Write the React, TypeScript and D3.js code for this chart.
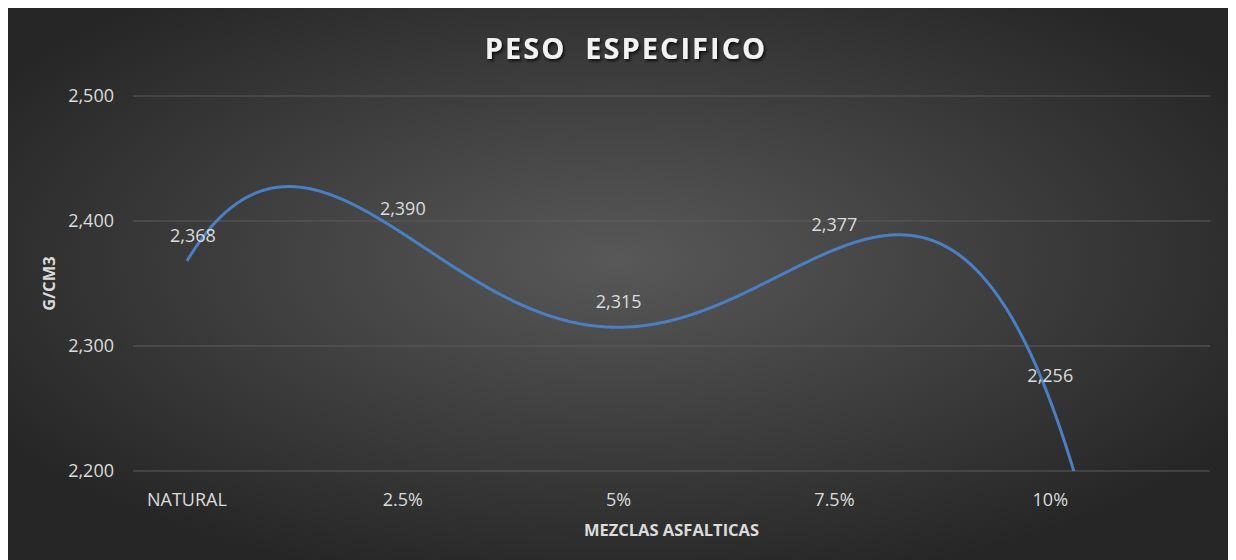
import React from "react";
import * as d3 from "d3";

const categories = ["NATURAL", "2.5%", "5%", "7.5%", "10%"];
const values = [2.368, 2.39, 2.315, 2.377, 2.256];
const yTicks = [2.2, 2.3, 2.4, 2.5];

const W = 1236;
const H = 560;
const plot = { left: 133, right: 1210, top: 96, bottom: 471 };

function lagrange(xs: number[], ys: number[], x: number) {
  let s = 0;
  for (let i = 0; i < xs.length; i++) {
    let l = 1;
    for (let j = 0; j < xs.length; j++) {
      if (j !== i) l *= (x - xs[j]) / (xs[i] - xs[j]);
    }
    s += ys[i] * l;
  }
  return s;
}

export default function App() {
  const x = d3.scaleLinear().domain([-0.25, 4.74]).range([plot.left, plot.right]);
  const y = d3.scaleLinear().domain([2.2, 2.5]).range([plot.bottom, plot.top]);
  const idx = categories.map((_, i) => i);
  const samples = d3.range(0, 4.4, 0.005).map((t) => [t, lagrange(idx, values, t)] as [number, number]);
  const line = d3
    .line<[number, number]>()
    .x((d) => x(d[0]))
    .y((d) => y(d[1]))
    .curve(d3.curveLinear);
  const fmt = (v: number) => d3.format(".3f")(v).replace(".", ",");
  const font = "'Open Sans', 'Noto Sans', sans-serif";
  const txt = "#dcdcdc";

  return (
    <svg width={W} height={H} style={{ display: "block", position: "absolute", left: 0, top: 0 }}>
      <defs>
        <radialGradient id="bg" cx="50%" cy="45%" r="60%" fx="50%" fy="45%">
          <stop offset="0%" stopColor="#585858" />
          <stop offset="100%" stopColor="#262626" />
        </radialGradient>
        <clipPath id="clip">
          <rect x={plot.left} y={plot.top - 20} width={plot.right - plot.left} height={plot.bottom - plot.top + 20} />
        </clipPath>
        <filter id="shadow" x="-10%" y="-30%" width="120%" height="160%">
          <feDropShadow dx="1.5" dy="2" stdDeviation="1.5" floodColor="#000" floodOpacity="0.8" />
        </filter>
      </defs>
      <rect x={0} y={0} width={W} height={H} fill="#fff" />
      <rect x={8} y={8} width={1220} height={H} fill="url(#bg)" />
      <text
        x={626}
        y={59}
        textAnchor="middle"
        fill="#f2f2f2"
        fontFamily={font}
        fontWeight="bold"
        fontSize={29}
        letterSpacing={2}
        filter="url(#shadow)"
        style={{ whiteSpace: "pre" }}
      >
        PESO  ESPECIFICO
      </text>
      {yTicks.map((t) => (
        <g key={t}>
          <line x1={plot.left} x2={plot.right} y1={y(t)} y2={y(t)} stroke="#5c5c5c" strokeWidth={1} />
          <text x={114} y={y(t) + 6} textAnchor="end" fill={txt} fontFamily={font} fontSize={18}>
            {fmt(t)}
          </text>
        </g>
      ))}
      {categories.map((c, i) => (
        <text key={c} x={x(i)} y={506} textAnchor="middle" fill={txt} fontFamily={font} fontSize={18}>
          {c}
        </text>
      ))}
      <path d={line(samples) || ""} fill="none" stroke="#4a7fc4" strokeWidth={3} clipPath="url(#clip)" />
      {values.map((v, i) => (
        <text key={i} x={x(i) + (i === 0 ? 6 : 0)} y={y(v) - 19} textAnchor="middle" fill={txt} fontFamily={font} fontSize={18}>
          {fmt(v)}
        </text>
      ))}
      <text
        x={(plot.left + plot.right) / 2}
        y={536}
        textAnchor="middle"
        fill={txt}
        fontFamily={font}
        fontWeight="bold"
        fontSize={16.5}
      >
        MEZCLAS ASFALTICAS
      </text>
      <text
        transform={`translate(55, ${(plot.top + plot.bottom) / 2}) rotate(-90)`}
        textAnchor="middle"
        fill={txt}
        fontFamily={font}
        fontWeight="bold"
        fontSize={16.5}
      >
        G/CM3
      </text>
    </svg>
  );
}
